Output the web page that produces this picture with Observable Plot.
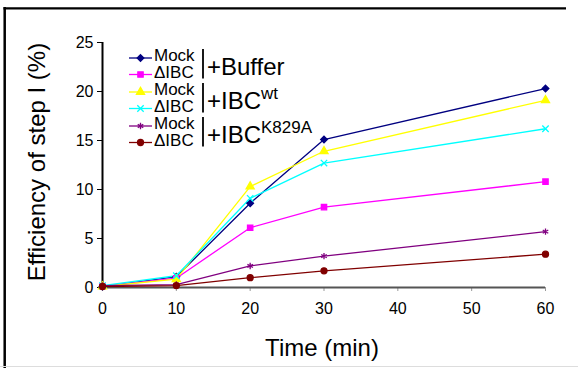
<!DOCTYPE html>
<html><head><meta charset="utf-8">
<script src="https://cdn.jsdelivr.net/npm/d3@7"></script>
<script src="https://cdn.jsdelivr.net/npm/@observablehq/plot@0.6"></script>
<style>body{margin:0;background:#fff} svg{display:block}</style>
</head><body><div id="chart"></div>
<script>
// ---- data ----
const times = [0, 10, 20, 30, 60];
const seriesNames = ["Mock +Buffer", "ΔIBC +Buffer", "Mock +IBCwt", "ΔIBC +IBCwt", "Mock +IBCK829A", "ΔIBC +IBCK829A"];
const mockBuffer = [0.1, 1.1, 8.6, 15.1, 20.3];
const dIBCBuffer = [0.1, 0.95, 6.1, 8.2, 10.8];
const mockWt     = [0.1, 0.85, 10.3, 13.9, 19.1];
const dIBCWt     = [0.2, 1.2, 9.1, 12.7, 16.2];
const mockK829A  = [0.2, 0.3, 2.2, 3.2, 5.7];
const dIBCK829A  = [0.1, 0.2, 1.0, 1.7, 3.4];
const seriesValues = [mockBuffer, dIBCBuffer, mockWt, dIBCWt, mockK829A, dIBCK829A];
const seriesColors = ["#000080", "#ff00ff", "#ffff00", "#00ffff", "#800080", "#800000"];
const seriesSymbols = ["diamond2", "square", "triangle", "times", "asterisk", "circle"];
const xTicks = [0, 10, 20, 30, 40, 50, 60];
const yTicks = [0, 5, 10, 15, 20, 25];
const legendRowLabels = ["Mock", "ΔIBC", "Mock", "ΔIBC", "Mock", "ΔIBC"];
const legendGroups = [["+Buffer", ""], ["+IBC", "wt"], ["+IBC", "K829A"]];
const xLabel = "Time (min)";
const yLabel = "Efficiency of step I (%)";

const rows = [];
seriesNames.forEach((name, i) => {
  times.forEach((t, j) => rows.push({series: name, time: t, value: seriesValues[i][j]}));
});
const isOpen = s => ["times", "asterisk"].includes(s);

const font = "'Liberation Sans', Arial, sans-serif";

const chart = Plot.plot({
  width: 578, height: 368,
  marginLeft: 102, marginRight: 33, marginTop: 42, marginBottom: 81,
  style: {fontFamily: font, fontSize: "16px", color: "#000", background: "#fff"},
  x: {domain: [0, 60]},
  y: {domain: [0, 25]},
  color: {domain: seriesNames, range: seriesColors},
  symbol: {domain: seriesNames, range: seriesSymbols},
  marks: [
    Plot.axisX({ticks: xTicks, tickSize: 4, tickPadding: 11, label: null, fontSize: 16, stroke: "#999", fill: "#000"}),
    Plot.axisY({ticks: yTicks, tickSize: 5, tickPadding: 4, label: null, fontSize: 16, stroke: "#000", fill: "#000"}),
    Plot.ruleY([0], {stroke: "#555", strokeWidth: 2}),
    Plot.ruleX([0], {stroke: "#000", strokeWidth: 2}),
    Plot.line(rows, {x: "time", y: "value", z: "series", stroke: "series", strokeWidth: 1.3}),
    Plot.dot(rows, {x: "time", y: "value", symbol: "series", stroke: "series",
      fill: d => { const i = seriesNames.indexOf(d.series); return isOpen(seriesSymbols[i]) ? "none" : seriesColors[i]; },
      r: 3, strokeWidth: 1.3})
  ]
});

const svg = d3.select(chart);

// frame
svg.append("line").attr("x1", 4.7).attr("x2", 4.7).attr("y1", 7).attr("y2", 368).attr("stroke", "#000").attr("stroke-width", 2.5);
svg.append("line").attr("x1", 3.5).attr("x2", 566).attr("y1", 8.3).attr("y2", 8.3).attr("stroke", "#000").attr("stroke-width", 2.2);
svg.append("line").attr("x1", 0).attr("x2", 578).attr("y1", 366.5).attr("y2", 366.5).attr("stroke", "#ddd").attr("stroke-width", 1);

// axis titles
svg.append("text").attr("transform", "translate(45,162) rotate(-90)").attr("text-anchor", "middle")
  .attr("font-family", font).style("font-size", "24px").attr("fill", "#000").text(yLabel);
svg.append("text").attr("x", 322).attr("y", 356).attr("text-anchor", "middle")
  .attr("font-family", font).style("font-size", "24px").attr("fill", "#000").text(xLabel);

// legend
const symMap = {diamond2: d3.symbolDiamond2, square: d3.symbolSquare, triangle: d3.symbolTriangle, times: d3.symbolTimes, asterisk: d3.symbolAsterisk, circle: d3.symbolCircle};
const rowY = [58, 74.5, 92, 108.5, 126, 142.5];
const lg = svg.append("g").attr("font-family", font).attr("text-anchor", "start");
seriesNames.forEach((name, i) => {
  const y = rowY[i];
  lg.append("line").attr("x1", 129).attr("x2", 152).attr("y1", y).attr("y2", y).attr("stroke", seriesColors[i]).attr("stroke-width", 1.3);
  const open = isOpen(seriesSymbols[i]);
  lg.append("path").attr("transform", `translate(140.5,${y})`)
    .attr("d", d3.symbol(symMap[seriesSymbols[i]], Math.PI * 9)())
    .attr("fill", open ? "none" : seriesColors[i]).attr("stroke", seriesColors[i]).attr("stroke-width", 1.3);
  lg.append("text").attr("x", 154).attr("y", y + 3).style("font-size", "17px").attr("text-anchor", "start").attr("fill", "#000").text(legendRowLabels[i]);
});
legendGroups.forEach((g, k) => {
  const ya = rowY[2 * k], yb = rowY[2 * k + 1];
  lg.append("line").attr("x1", 203).attr("x2", 203).attr("y1", ya - 9).attr("y2", yb + 4).attr("stroke", "#000").attr("stroke-width", 1.8);
  const t = lg.append("text").attr("x", 207).attr("y", (ya + yb) / 2 + 8.5).style("font-size", "24px").attr("text-anchor", "start").attr("fill", "#000");
  t.append("tspan").text(g[0]);
  if (g[1]) t.append("tspan").style("font-size", "17px").attr("dy", -10).text(g[1]);
});

document.getElementById("chart").appendChild(chart);
</script>
</body></html>
